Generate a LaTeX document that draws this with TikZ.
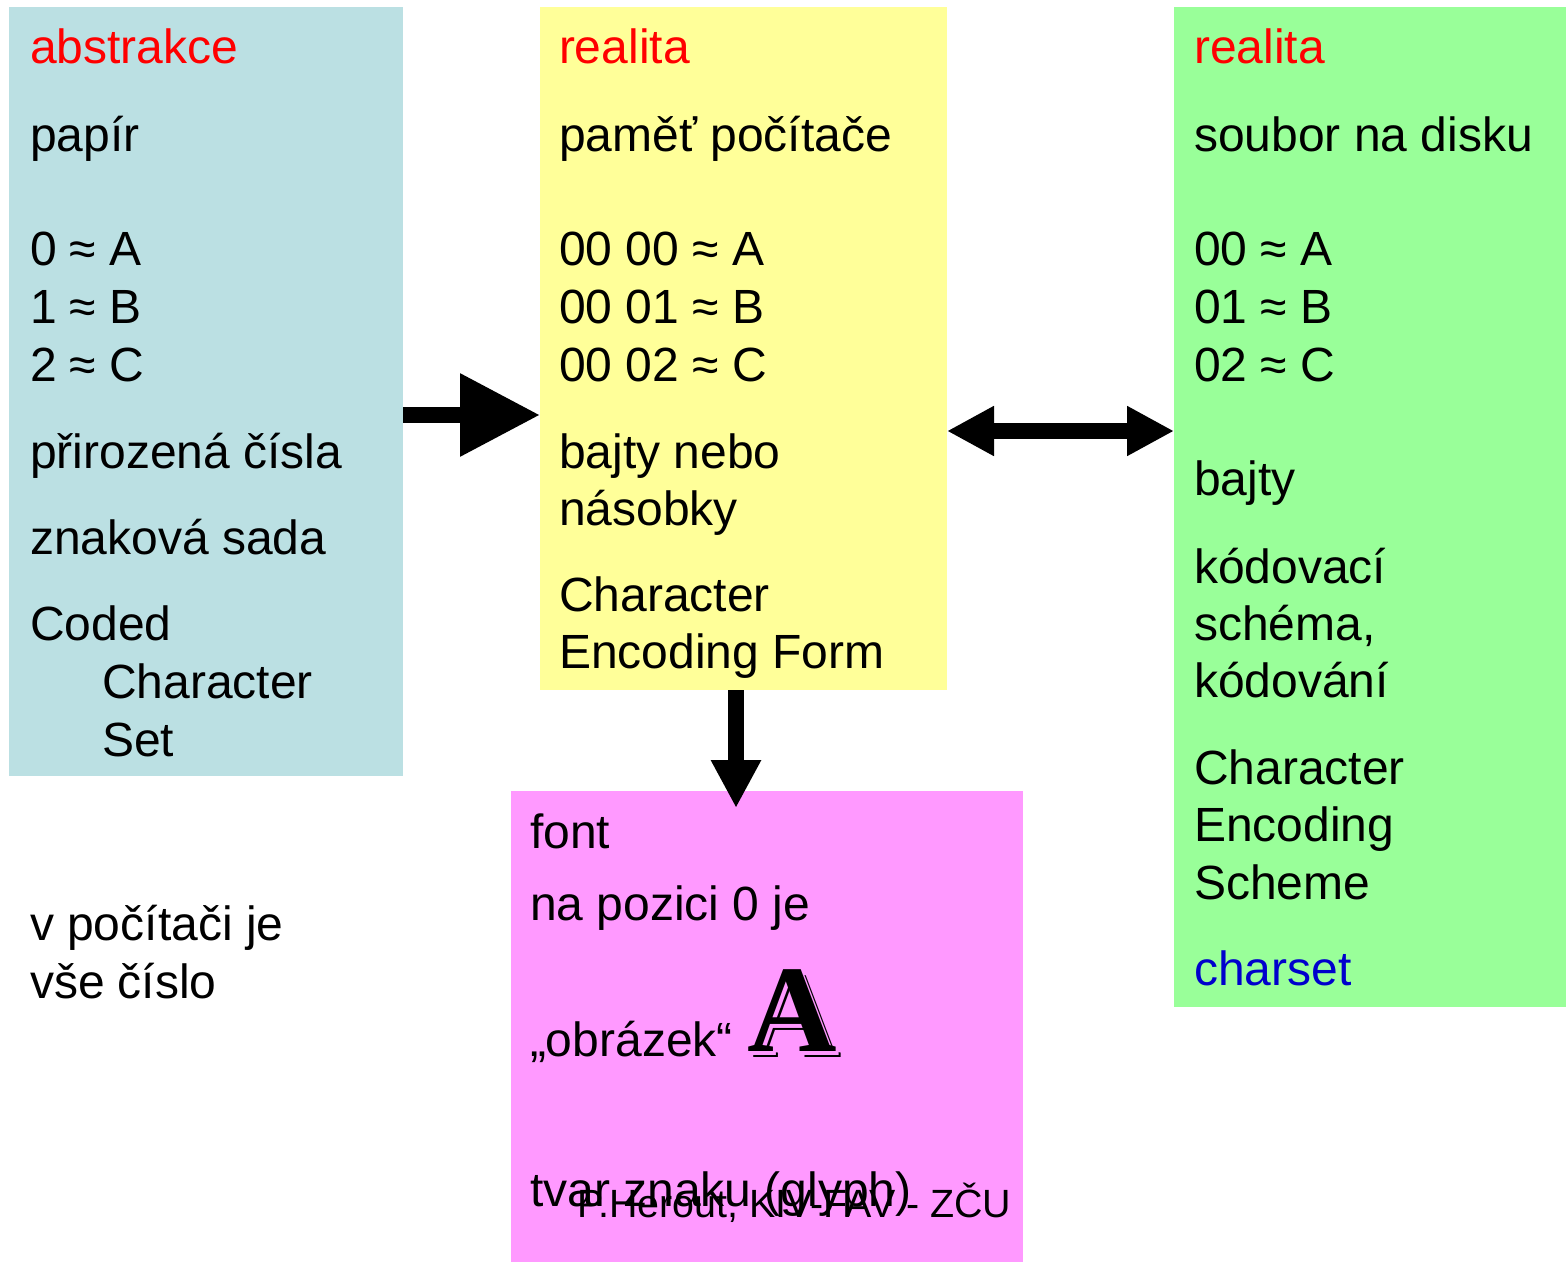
\documentclass[tikz,border=0pt]{standalone}
\usepackage{fontspec}
\setmainfont{Liberation Sans}
\newfontfamily\serifA{Liberation Serif}
\usetikzlibrary{arrows.meta}
\definecolor{boxblue}{HTML}{BBE0E3}
\definecolor{boxyellow}{HTML}{FFFF99}
\definecolor{boxgreen}{HTML}{99FF99}
\definecolor{boxpink}{HTML}{FF99FF}
\definecolor{txtred}{HTML}{FF0000}
\definecolor{txtblue}{HTML}{0000CC}
\tikzset{
  panel/.style={anchor=north west, inner sep=0pt, outer sep=0pt, draw=none},
  txt/.style={anchor=base west, inner sep=0pt, outer sep=0pt, font=\fontsize{24}{28.8}\selectfont},
  foot/.style={anchor=base west, inner sep=0pt, outer sep=0pt, font=\fontsize{19.7}{23.6}\selectfont},
  glyphA/.style={anchor=base west, inner sep=0pt, outer sep=0pt, font=\serifA\bfseries\fontsize{62}{70}\selectfont},
  bigarrow/.style={line width=8pt, -{Triangle[length=40pt,width=39.5pt]}},
  dblarrow/.style={line width=8pt, {Triangle[length=23.5pt,width=23.5pt]}-{Triangle[length=23.5pt,width=23.5pt]}},
  downarrow/.style={line width=8pt, -{Triangle[length=24pt,width=23.5pt]}},
}
\begin{document}
\begin{tikzpicture}[x=0.5pt,y=-0.5pt]
\useasboundingbox (0,0) rectangle (1566,1262);
% panels
\node[panel, fill=boxblue, minimum width=197pt, minimum height=384.5pt] (blue) at (9,7) {};
\node[panel, fill=boxyellow, minimum width=203.5pt, minimum height=341.5pt] (yellow) at (540,7) {};
\node[panel, fill=boxgreen, minimum width=196pt, minimum height=500pt] (green) at (1174,7) {};
\node[panel, fill=boxpink, minimum width=256pt, minimum height=235.5pt] (pink) at (511,791) {};
% blue panel texts
\node[txt, text=txtred] (b1) at (30,64) {abstrakce};
\node[txt] (b2) at (30,152) {papír};
\node[txt] (b3) at (30,266) {0 ≈ A};
\node[txt] (b4) at (30,323) {1 ≈ B};
\node[txt] (b5) at (30,381) {2 ≈ C};
\node[txt] (b6) at (30,468) {přirozená čísla};
\node[txt] (b7) at (30,554) {znaková sada};
\node[txt] (b8) at (30,640) {Coded};
\node[txt] (b9) at (102,698) {Character};
\node[txt] (b10) at (102,756) {Set};
\node[txt] (n1) at (30,940) {v počítači je};
\node[txt] (n2) at (30,998) {vše číslo};
% yellow panel texts
\node[txt, text=txtred] (y1) at (559,64) {realita};
\node[txt] (y2) at (559,152) {paměť počítače};
\node[txt] (y3) at (559,266) {00 00 ≈ A};
\node[txt] (y4) at (559,323) {00 01 ≈ B};
\node[txt] (y5) at (559,381) {00 02 ≈ C};
\node[txt] (y6) at (559,468) {bajty nebo};
\node[txt] (y7) at (559,525) {násobky};
\node[txt] (y8) at (559,611) {Character};
\node[txt] (y9) at (559,668) {Encoding Form};
% green panel texts
\node[txt, text=txtred] (g1) at (1194,64) {realita};
\node[txt] (g2) at (1194,152) {soubor na disku};
\node[txt] (g3) at (1194,266) {00 ≈ A};
\node[txt] (g4) at (1194,323) {01 ≈ B};
\node[txt] (g5) at (1194,381) {02 ≈ C};
\node[txt] (g6) at (1194,495) {bajty};
\node[txt] (g7) at (1194,583) {kódovací};
\node[txt] (g8) at (1194,640) {schéma,};
\node[txt] (g9) at (1194,697) {kódování};
\node[txt] (g10) at (1194,784) {Character};
\node[txt] (g11) at (1194,841) {Encoding};
\node[txt] (g12) at (1194,899) {Scheme};
\node[txt, text=txtblue] (g13) at (1194,985) {charset};
% pink panel texts
\node[txt] (p1) at (530,848) {font};
\node[txt] (p2) at (530,920) {na pozici 0 je};
\node[txt] (p3) at (530,1056) {„obrázek“};
\node[glyphA, text=black] (pAs1) at (752,1057) {A};
\node[glyphA, text=boxpink] (pAs2) at (750,1055) {A};
\node[glyphA, text=black] (pA) at (747,1051) {A};
\node[txt] (p4) at (530,1206) {tvar znaku (glyph)};
\node[foot] (foot) at (577,1217) {P.Herout, KIV-FAV - ZČU};
% arrows
\coordinate (a1) at (0,415);
\draw[bigarrow] (blue.east |- a1) -- (yellow.west |- a1);
\coordinate (a2) at (0,431);
\draw[dblarrow] (yellow.east |- a2) -- (green.west |- a2);
\coordinate (dtip) at (736,808);
\draw[downarrow] (yellow.south -| dtip) -- (dtip);
\end{tikzpicture}
\end{document}
